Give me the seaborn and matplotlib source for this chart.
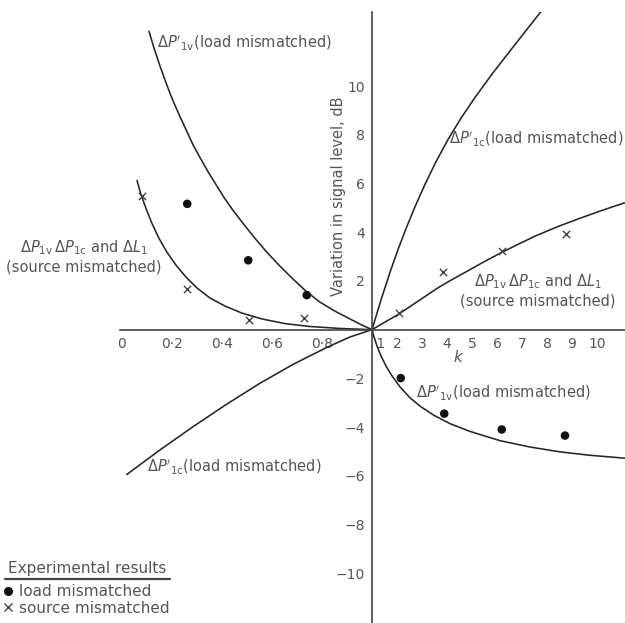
import numpy as np
import matplotlib
matplotlib.use("Agg")
import matplotlib.pyplot as plt
import seaborn as sns
from matplotlib.lines import Line2D

# ---------------- data ----------------
# Delta P'_1v (load mismatched)
pv_load_left_k = [0.108, 0.128, 0.152, 0.176, 0.204, 0.232, 0.26, 0.284, 0.312, 0.344, 0.376, 0.408,
                  0.444, 0.484, 0.528, 0.576, 0.628, 0.68, 0.736, 0.792, 0.852, 0.912, 0.96, 1.0]
pv_load_left_y = [12.26, 11.57, 10.83, 10.14, 9.40, 8.75, 8.13, 7.60, 7.07, 6.49, 5.96, 5.43,
                  4.90, 4.37, 3.80, 3.22, 2.65, 2.12, 1.58, 1.13, 0.76, 0.44, 0.19, 0.0]
pv_load_right_k = [1.0, 1.08, 1.2, 1.36, 1.56, 1.8, 2.12, 2.52, 2.96, 3.48, 4.12, 4.92,
                   6.12, 7.32, 8.52, 9.72, 11.12]
pv_load_right_y = [0.0, -0.30, -0.67, -1.08, -1.49, -1.90, -2.35, -2.80, -3.17, -3.52, -3.86, -4.18,
                   -4.56, -4.82, -5.02, -5.16, -5.28]

# Delta P'_1c (load mismatched)
pc_load_left_k = [0.019, 0.152, 0.285, 0.419, 0.552, 0.685, 0.819, 0.912, 1.0]
pc_load_left_y = [-5.95, -4.94, -3.98, -3.06, -2.20, -1.42, -0.73, -0.30, 0.0]
pc_load_right_k = [1.0, 1.36, 1.72, 2.04, 2.36, 2.72, 3.12, 3.56, 4.04, 4.56, 5.12, 5.8,
                   6.52, 7.2, 7.84]
pc_load_right_y = [0.0, 1.22, 2.36, 3.29, 4.15, 5.05, 5.97, 6.90, 7.81, 8.69, 9.54, 10.5,
                   11.45, 12.34, 13.17]

# Delta P_1v, Delta P_1c and Delta L_1 (source mismatched)
src_left_k = [0.06, 0.076, 0.096, 0.12, 0.148, 0.18, 0.216, 0.256, 0.3, 0.352, 0.412, 0.48,
              0.56, 0.652, 0.752, 0.872, 1.0]
src_left_y = [6.13, 5.55, 4.98, 4.36, 3.75, 3.18, 2.65, 2.16, 1.71, 1.30, 0.97, 0.68,
              0.44, 0.25, 0.13, 0.05, 0.0]
src_right_k = [1.0, 1.5, 2.04, 2.44, 2.84, 3.24, 3.64, 4.17, 4.84, 5.5, 6.2, 6.87,
               7.54, 8.47, 9.3, 10.2, 11.1]
src_right_y = [0.0, 0.30, 0.62, 0.895, 1.17, 1.445, 1.72, 2.04, 2.42, 2.80, 3.18, 3.52,
               3.85, 4.25, 4.57, 4.90, 5.21]

# experimental results
load_pts_k = [0.261, 0.505, 0.739, 2.15, 3.89, 6.19, 8.72]
load_pts_y = [5.17, 2.85, 1.42, -1.99, -3.45, -4.1, -4.35]
source_pts_k = [0.079, 0.261, 0.509, 0.727, 2.09, 3.85, 6.21, 8.76]
source_pts_y = [5.51, 1.69, 0.40, 0.47, 0.70, 2.37, 3.22, 3.94]

x_ticks = [0, 0.1, 0.2, 0.3, 0.4, 0.5, 0.6, 0.7, 0.8, 0.9, 1, 2, 3, 4, 5, 6, 7, 8, 9, 10]
x_ticklabels = ["0", "", "0·2", "", "0·4", "", "0·6", "", "0·8", "", " 1",
                "2", "3", "4", "5", "6", "7", "8", "9", "10"]
y_ticks = [-10, -8, -6, -4, -2, 2, 4, 6, 8, 10]
y_ticklabels = ["−10", "−8", "−6", "−4", "−2", "2", "4", "6", "8", "10"]

# ---------------- style ----------------
sns.set_style("white")
plt.rcParams['font.family'] = ['DejaVu Sans']
plt.rcParams['mathtext.fontset'] = 'dejavusans'

LINE = "#262626"
TEXT = "#555555"
AX = "#444444"

W, H = 625, 623
fig = plt.figure(figsize=(W / 100, H / 100), dpi=100)
ax = fig.add_axes([120 / W, 0, 505 / W, 611 / H])


def fwd(k):
    k = np.asarray(k, dtype=float)
    return np.where(k < 1, 10 * (k - 1), k - 1)


def inv(u):
    u = np.asarray(u, dtype=float)
    return np.where(u < 0, 1 + u / 10, 1 + u)


ax.set_xscale('function', functions=(fwd, inv))

for kk, yy in [(pv_load_left_k, pv_load_left_y), (pv_load_right_k, pv_load_right_y),
               (pc_load_left_k, pc_load_left_y), (pc_load_right_k, pc_load_right_y),
               (src_left_k, src_left_y), (src_right_k, src_right_y)]:
    sns.lineplot(x=kk, y=yy, ax=ax, color=LINE, lw=1.15, sort=False,
                 estimator=None, legend=False)

sns.scatterplot(x=load_pts_k, y=load_pts_y, ax=ax, marker='o', s=38,
                color="#111111", edgecolor="none", zorder=4, legend=False)
sns.scatterplot(x=source_pts_k, y=source_pts_y, ax=ax, marker='x', s=28,
                color="#444444", linewidth=1.0, zorder=4, legend=False)

ax.set_xlim(inv(-10.08), inv(10.12))
ax.set_ylim(-12.05, 13.05)

for s in ['top', 'right']:
    ax.spines[s].set_visible(False)
ax.spines['left'].set_position(('data', 1))
ax.spines['bottom'].set_position(('data', 0))
for s in ['left', 'bottom']:
    ax.spines[s].set_color(AX)
    ax.spines[s].set_linewidth(1.2)

ax.set_xticks(x_ticks)
ax.set_xticklabels(x_ticklabels)
ax.set_yticks(y_ticks)
ax.set_yticklabels(y_ticklabels)
ax.tick_params(axis='both', direction='inout', length=7, width=1, color=AX,
               labelcolor=TEXT, labelsize=10, pad=1.5)
ax.xaxis.get_major_ticks()[10].label1.set_horizontalalignment('left')

ax.set_ylabel("Variation in signal level, dB", color=TEXT, fontsize=10.5, va='center')
ax.yaxis.set_label_coords((338 - 120) / 505, (623 - 196) / 611)


def ftext(px, py, s, **kw):
    kw.setdefault('color', TEXT)
    kw.setdefault('fontsize', 10.5)
    kw.setdefault('va', 'center')
    fig.text(px / W, 1 - py / H, s, **kw)


src_label = r"$\Delta P_{1\mathrm{v}}\,\Delta P_{1\mathrm{c}}$ and $\Delta L_1$" + "\n(source mismatched)"
ftext(157, 43, r"$\Delta P'_{1\mathrm{v}}$(load mismatched)", ha='left')
ftext(449, 138, r"$\Delta P'_{1\mathrm{c}}$(load mismatched)", ha='left')
ftext(84, 256, src_label, ha='center', multialignment='center')
ftext(538, 290, src_label, ha='center', multialignment='center')
ftext(416, 393, r"$\Delta P'_{1\mathrm{v}}$(load mismatched)", ha='left')
ftext(147, 467, r"$\Delta P'_{1\mathrm{c}}$(load mismatched)", ha='left')
ftext(458, 357, "k", ha='center', style='italic', fontsize=11)

# legend
ftext(8, 569, "Experimental results", ha='left', fontsize=11)
fig.add_artist(Line2D([5 / W, 170 / W], [1 - 579 / H, 1 - 579 / H], color=AX, lw=1.6))
handles = [Line2D([], [], marker='o', ls='', color='#111111', markersize=5.5),
           Line2D([], [], marker='x', ls='', color='#444444', markersize=5.5, mew=1)]
leg = fig.legend(handles, ["load mismatched", "source mismatched"],
                 loc='upper left', bbox_to_anchor=(3 / W, 1 - 584 / H), frameon=False,
                 handlelength=0.6, handletextpad=0.45, borderpad=0, borderaxespad=0,
                 labelspacing=0.1, fontsize=11)
for t in leg.get_texts():
    t.set_color(TEXT)

fig.savefig("out.png", dpi=100)
